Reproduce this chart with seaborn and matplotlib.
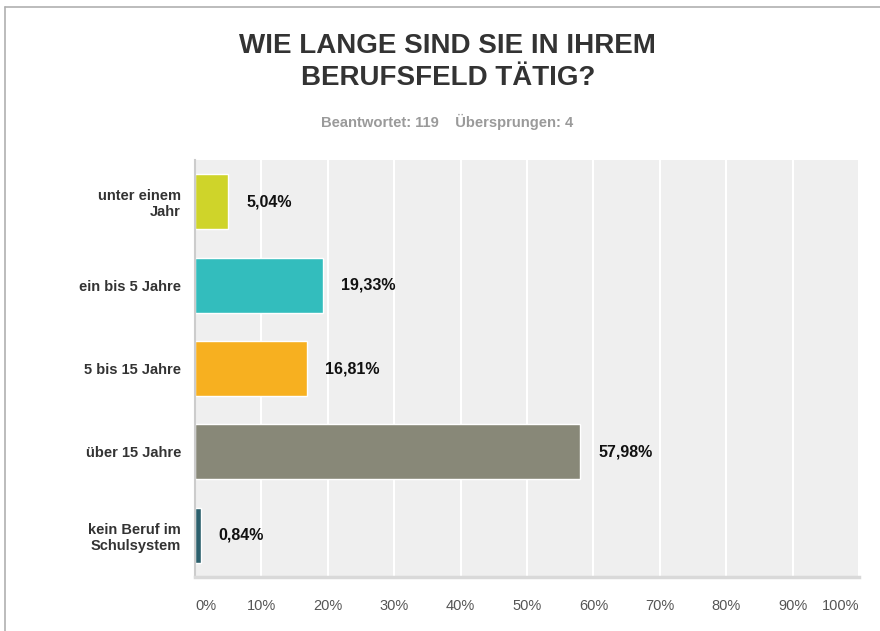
import matplotlib
matplotlib.use("Agg")
import matplotlib.pyplot as plt
import seaborn as sns
import pandas as pd
from matplotlib.lines import Line2D

# Data
categories = ["unter einem\nJahr", "ein bis 5 Jahre", "5 bis 15 Jahre",
              "über 15 Jahre", "kein Beruf im\nSchulsystem"]
percent = [5.04, 19.33, 16.81, 57.98, 0.84]
bar_colors = ["#cfd42a", "#33bdbd", "#f7b020", "#888878", "#2b5f6c"]
x_ticks = [0, 10, 20, 30, 40, 50, 60, 70, 80, 90, 100]
x_tick_labels = [f"{t}%" for t in x_ticks]

title = "WIE LANGE SIND SIE IN IHREM\nBERUFSFELD TÄTIG?"
subtitle = "Beantwortet: 119    Übersprungen: 4"

df = pd.DataFrame({"category": categories, "percent": percent})

sns.set_theme(style="white")
plt.rcParams['font.family'] = ['Liberation Sans', 'DejaVu Sans']

fig = plt.figure(figsize=(8.8, 6.31), dpi=100)
ax = fig.add_axes([0.2216, 0.0856, 0.7545, 0.6608])
ax.set_facecolor("#efefef")

sns.barplot(data=df, x="percent", y="category", hue="category",
            palette=bar_colors, orient="h", width=0.66, legend=False,
            saturation=1, ax=ax)

# value labels to the right of each bar
for cont, v in zip(ax.containers, percent):
    ax.bar_label(cont, labels=[f"{v:.2f}%".replace(".", ",")], padding=13,
                 fontsize=11.5, fontweight="bold", color="#111111")

ax.set_xlim(0, 100)
ax.set_xticks(x_ticks)
ax.set_xticklabels(x_tick_labels, fontsize=10.5, color="#555555")
tl = ax.get_xticklabels()
tl[0].set_horizontalalignment("left")
tl[-1].set_horizontalalignment("right")
ax.xaxis.grid(True, color="white", linewidth=1.5)
ax.set_axisbelow(True)
ax.tick_params(axis="x", length=0, pad=16)
ax.tick_params(axis="y", length=0, pad=10)
for lbl in ax.get_yticklabels():
    lbl.set_fontsize(10.5)
    lbl.set_fontweight("bold")
    lbl.set_color("#333333")
ax.set_xlabel("")
ax.set_ylabel("")

for s in ["top", "right"]:
    ax.spines[s].set_visible(False)
ax.spines["bottom"].set_color("#d9d9d9")
ax.spines["bottom"].set_linewidth(2.5)
ax.spines["left"].set_color("#cccccc")
ax.spines["left"].set_linewidth(1.5)

fig.text(0.509, 0.902, title, ha="center", va="center", fontsize=20,
         fontweight="bold", color="#333333", linespacing=1.3)
fig.text(0.508, 0.806, subtitle, ha="center", va="center", fontsize=10.6,
         fontweight="bold", color="#9a9a9a")

# thin frame around the panel (top and left edges)
fig.add_artist(Line2D([0.006, 1.0], [0.989, 0.989], color="#b0b0b0", linewidth=1.2))
fig.add_artist(Line2D([0.006, 0.006], [0.0, 0.989], color="#b0b0b0", linewidth=1.2))

fig.savefig("out.png", dpi=100)
